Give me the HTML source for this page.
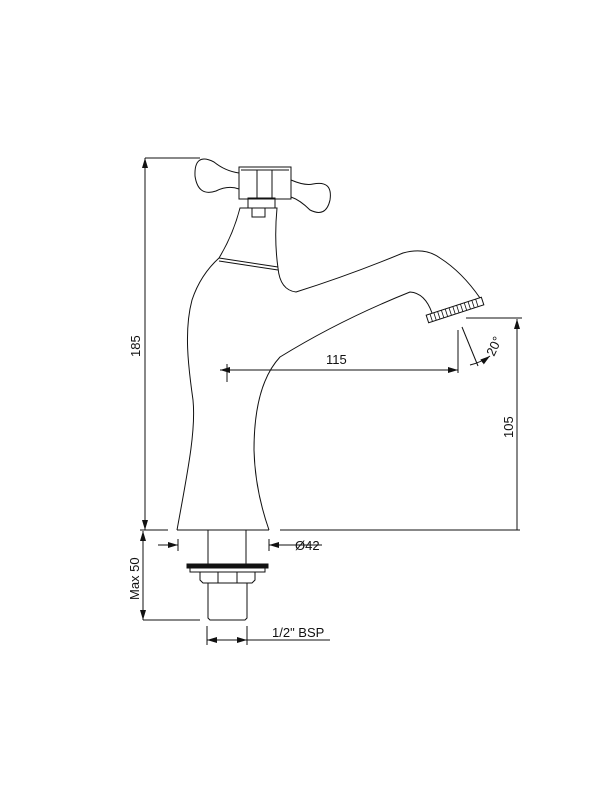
<!DOCTYPE html>
<html><head><style>body{margin:0;background:#fff}svg{display:block}text{font-family:"Liberation Sans",sans-serif;font-size:13px;fill:#111}</style></head>
<body>
<svg width="600" height="800" viewBox="0 0 600 800" xmlns="http://www.w3.org/2000/svg">
<defs><marker id="a" markerWidth="10" markerHeight="6" refX="10" refY="3" orient="auto" markerUnits="userSpaceOnUse"><path d="M0,0 L10,3 L0,6 z" fill="#111"/></marker></defs>
<g stroke="#111" stroke-width="1" fill="none">
<!-- 185 dim -->
<line x1="145" y1="158" x2="200" y2="158"/>
<line x1="145" y1="530" x2="145" y2="158" marker-end="url(#a)"/>
<line x1="145" y1="160" x2="145" y2="530" marker-end="url(#a)"/>
<line x1="140" y1="530" x2="168" y2="530"/>
<line x1="280" y1="530" x2="520" y2="530"/>
<!-- Max 50 -->
<line x1="143" y1="545" x2="143" y2="531" marker-end="url(#a)"/>
<line x1="143" y1="535" x2="143" y2="620" marker-end="url(#a)"/>
<line x1="143" y1="620" x2="200" y2="620"/>
<!-- 105 -->
<line x1="466" y1="318" x2="522" y2="318"/>
<line x1="517" y1="330" x2="517" y2="319" marker-end="url(#a)"/>
<line x1="517" y1="320" x2="517" y2="530"/>
<!-- 115 -->
<line x1="240" y1="370" x2="220" y2="370" marker-end="url(#a)"/>
<line x1="227" y1="364" x2="227" y2="382"/>
<line x1="220" y1="370" x2="458" y2="370" marker-end="url(#a)"/>
<line x1="458" y1="330" x2="458" y2="373"/>
<line x1="462" y1="327" x2="478" y2="366"/>
<path d="M470,365 Q482,362 490,356" marker-end="url(#a)"/>
<!-- Ø42 -->
<line x1="158" y1="545" x2="178" y2="545" marker-end="url(#a)"/>
<line x1="178" y1="539" x2="178" y2="551"/>
<line x1="269" y1="539" x2="269" y2="551"/>
<line x1="322" y1="545" x2="269" y2="545" marker-end="url(#a)"/>
<!-- BSP -->
<line x1="207" y1="626" x2="207" y2="645"/>
<line x1="247" y1="626" x2="247" y2="645"/>
<line x1="220" y1="640" x2="207" y2="640" marker-end="url(#a)"/>
<line x1="207" y1="640" x2="247" y2="640" marker-end="url(#a)"/>
<line x1="247" y1="640" x2="330" y2="640"/>
<!-- body -->
<path d="M177,530 C188,470 196,430 193,400 C188,365 184,330 192,300 C198,282 208,268 219,258"/>
<path d="M219,258 L278,267"/><path d="M219,261 L278,270"/>
<path d="M219,258 Q233,235 240,208 L277,208 Q274,240 278,268"/>
<path d="M278,268 Q280,290 296,292 Q350,275 403,253 Q425,247 440,258 Q462,272 480,298"/>
<path d="M269,530 Q255,490 254,450 Q254,385 280,357 Q340,320 410,292 Q425,293 432,313"/>
<line x1="177" y1="530" x2="269" y2="530"/>
<!-- handle -->
<rect x="248" y="198" width="27" height="10"/>
<rect x="252" y="208" width="13" height="9"/>
<rect x="239" y="167" width="52" height="32"/>
<line x1="241" y1="170" x2="289" y2="170"/>
<rect x="257" y="170" width="15" height="29"/>
<path d="M239,173 Q225,171 214,162 Q194,152 195,176 Q198,197 216,191 Q228,185 239,189"/>
<path d="M291,180 Q305,186 313,184 Q333,180 330,200 Q326,218 310,210 Q300,200 291,197"/>
<!-- aerator -->
<g transform="rotate(-18 455 310)">
<rect x="426" y="306" width="58" height="8"/>
<path d="M430,306 v8 M434,306 v8 M438,306 v8 M442,306 v8 M446,306 v8 M450,306 v8 M454,306 v8 M458,306 v8 M462,306 v8 M466,306 v8 M470,306 v8 M474,306 v8 M478,306 v8" stroke-width="0.8"/>
</g>
<!-- shank -->
<line x1="208" y1="530" x2="208" y2="564"/><line x1="246" y1="530" x2="246" y2="564"/>
<rect x="187" y="564" width="81" height="4" fill="#111"/>
<rect x="190" y="568" width="75" height="4"/>
<path d="M200,572 h55 v8 l-3,3 h-49 l-3,-3 z"/>
<line x1="218" y1="572" x2="218" y2="583"/><line x1="237" y1="572" x2="237" y2="583"/>
<path d="M208,583 V618 l2,2 h35 l2,-2 V583"/>
</g>
<text x="0" y="0" transform="translate(140,357) rotate(-90)">185</text>
<text x="0" y="0" transform="translate(139,600) rotate(-90)">Max 50</text>
<text x="0" y="0" transform="translate(513,438) rotate(-90)">105</text>
<text x="326" y="364">115</text>
<text x="0" y="0" transform="translate(494,357) rotate(-65)">20°</text>
<text x="295" y="550">Ø42</text>
<text x="272" y="637">1/2" BSP</text>
</svg>
</body></html>
